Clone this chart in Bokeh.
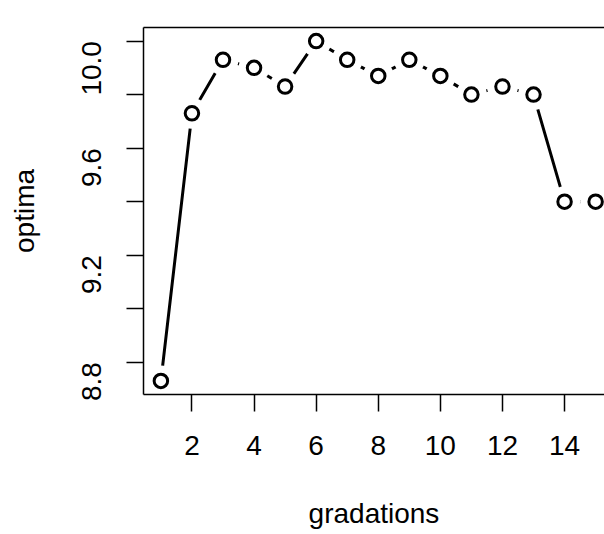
import math
from bokeh.plotting import figure
from bokeh.models import (ColumnDataSource, FixedTicker, LinearAxis, Range1d,
                          CustomJSTickFormatter)
from bokeh.embed import file_html
from bokeh.resources import INLINE

# data
gradations = [1, 2, 3, 4, 5, 6, 7, 8, 9, 10, 11, 12, 13, 14, 15]
optima = [8.73, 9.73, 9.93, 9.90, 9.83, 10.00, 9.93, 9.87, 9.93, 9.87,
          9.80, 9.83, 9.80, 9.40, 9.40]
x_ticks = [2, 4, 6, 8, 10, 12, 14]
y_ticks = [8.8, 9.0, 9.2, 9.4, 9.6, 9.8, 10.0]
y_labelled = [8.8, 9.2, 9.6, 10.0]

FONT = "Liberation Sans"
FS = "28px"

src = ColumnDataSource(dict(x=gradations, y=optima))

p = figure(width=604, height=534, output_backend="svg", toolbar_location=None,
           x_range=Range1d(0.44, 15.286), y_range=Range1d(8.6792, 10.0508),
           min_border_left=143, min_border_right=0, min_border_top=27,
           min_border_bottom=140, x_axis_location=None, y_axis_location=None)
p.outline_line_color = None
p.grid.visible = False
p.background_fill_color = "white"
p.border_fill_color = "white"

# line, gap masks, points (R type="b")
p.line("x", "y", source=src, line_color="black", line_width=3, line_cap="round")
p.scatter("x", "y", source=src, size=31, fill_color="white", line_color=None)
p.scatter("x", "y", source=src, marker="circle", size=13.5, fill_color="white",
          line_color="black", line_width=3)

xaxis = LinearAxis(ticker=FixedTicker(ticks=x_ticks), axis_label="gradations")
yfmt = CustomJSTickFormatter(args=dict(lab=y_labelled), code="""
    for (const v of lab) { if (Math.abs(v - tick) < 1e-6) return tick.toFixed(1); }
    return "";
""")
yaxis = LinearAxis(ticker=FixedTicker(ticks=y_ticks), formatter=yfmt,
                   axis_label="optima")
topaxis = LinearAxis(ticker=FixedTicker(ticks=[]), major_label_text_font_size="0px")

for ax in (xaxis, yaxis):
    ax.axis_line_color = "black"
    ax.axis_line_width = 1.5
    ax.major_tick_line_color = "black"
    ax.major_tick_line_width = 1.5
    ax.major_tick_out = 17
    ax.major_tick_in = 0
    ax.minor_tick_line_color = None
    ax.major_label_text_font = FONT
    ax.major_label_text_font_size = FS
    ax.major_label_text_color = "black"
    ax.axis_label_text_font = FONT
    ax.axis_label_text_font_size = FS
    ax.axis_label_text_font_style = "normal"
    ax.axis_label_text_color = "black"

xaxis.major_label_standoff = 24
xaxis.axis_label_standoff = 40
yaxis.major_label_orientation = math.pi / 2
yaxis.major_label_standoff = 35
yaxis.axis_label_standoff = 30

topaxis.axis_line_color = "black"
topaxis.axis_line_width = 1.5
topaxis.major_tick_line_color = None
topaxis.minor_tick_line_color = None
topaxis.major_label_standoff = 0

p.add_layout(xaxis, "below")
p.add_layout(yaxis, "left")
p.add_layout(topaxis, "above")

open("out.html", "w").write(file_html(p, INLINE))
